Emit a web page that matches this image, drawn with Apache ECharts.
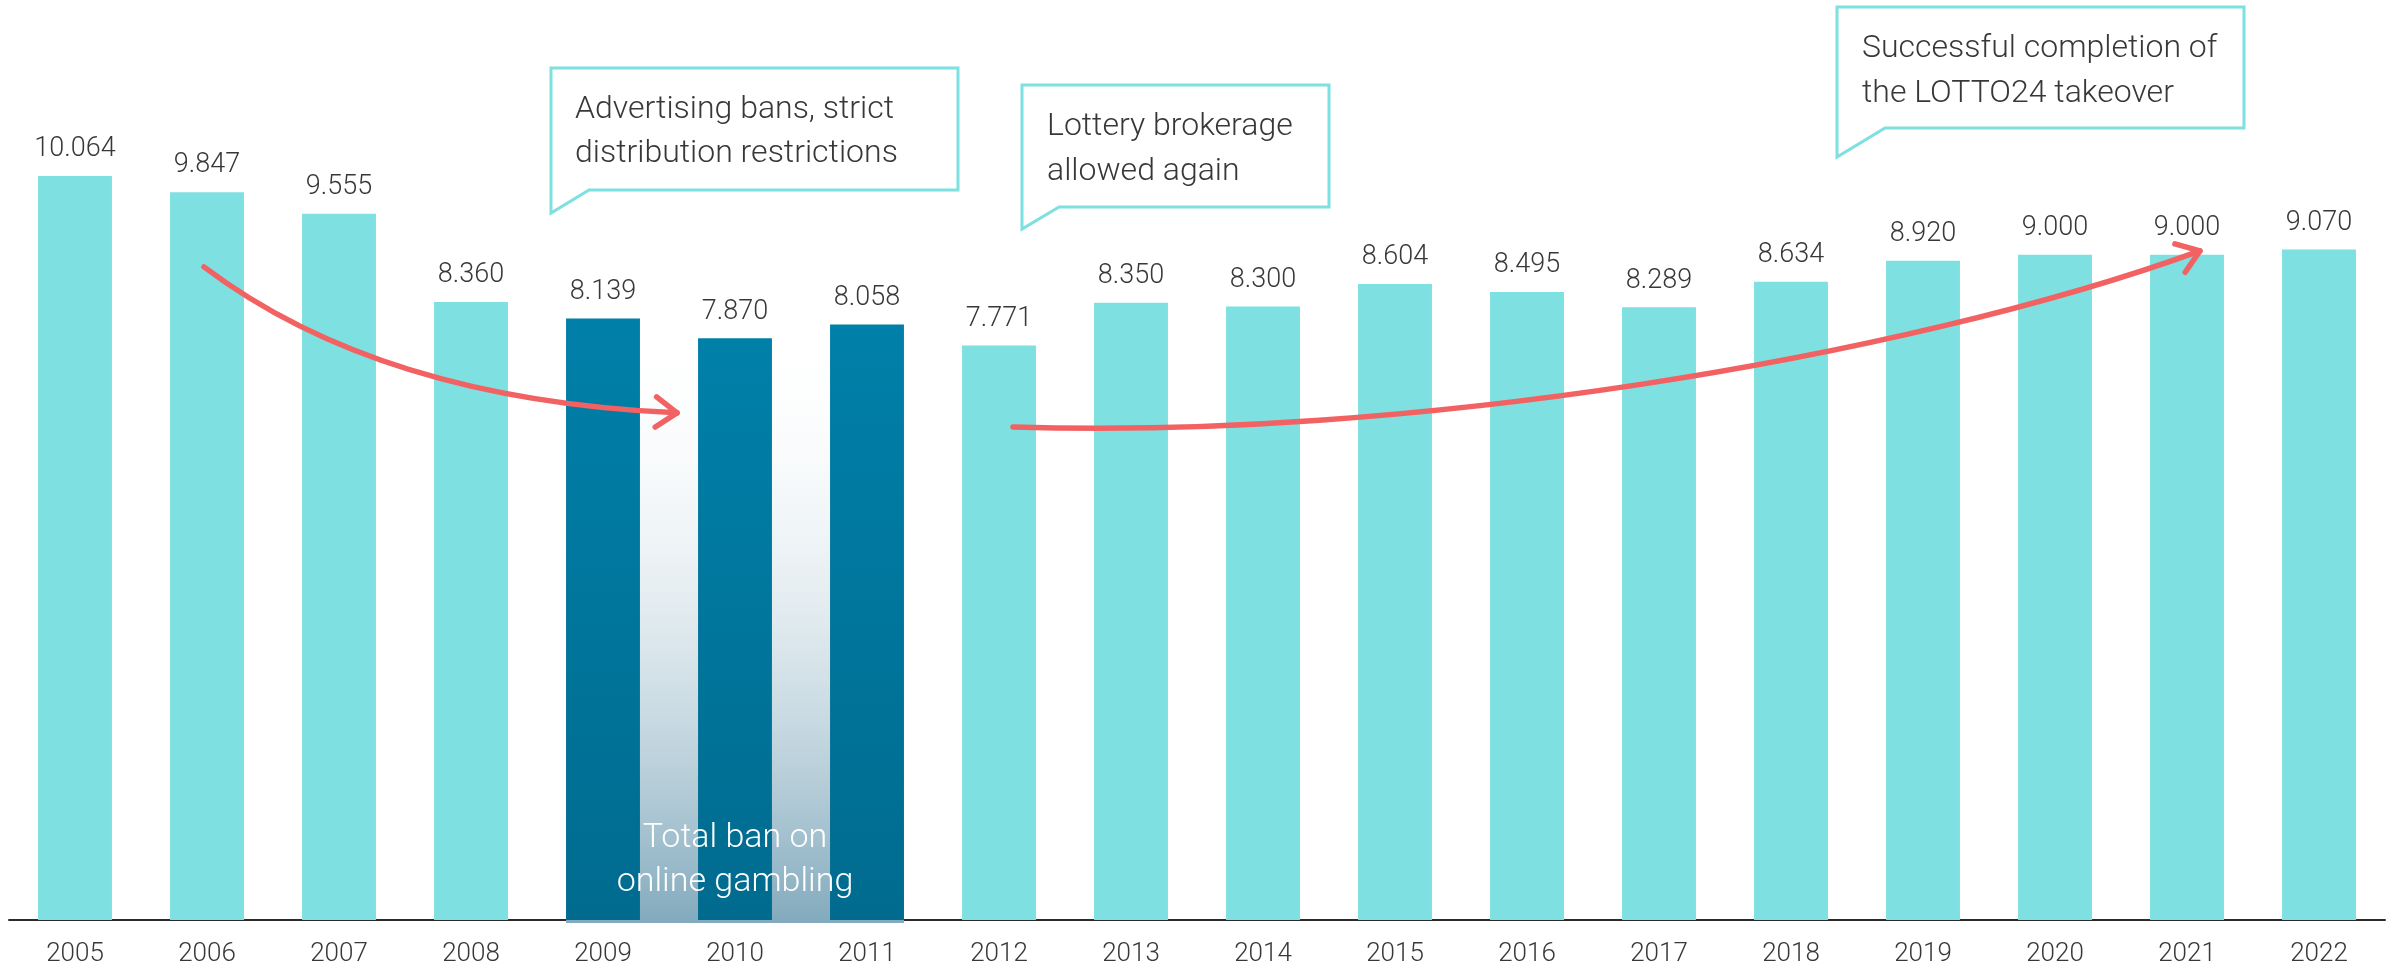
<!DOCTYPE html>
<html>
<head>
<meta charset="utf-8">
<script src="https://cdn.jsdelivr.net/npm/echarts@6/dist/echarts.min.js"></script>
<style>
  html, body { margin: 0; padding: 0; background: #ffffff; }
  #chart { width: 2399px; height: 972px; }
</style>
</head>
<body>
<div id="chart"></div>
<script>
// ---------- data ----------
const years = ['2005','2006','2007','2008','2009','2010','2011','2012','2013','2014','2015','2016','2017','2018','2019','2020','2021','2022'];
const revenue = [10.064, 9.847, 9.555, 8.360, 8.139, 7.870, 8.058, 7.771, 8.350, 8.300, 8.604, 8.495, 8.289, 8.634, 8.920, 9.000, 9.000, 9.070];
const banYears = ['2009', '2010', '2011'];
const banText = ['Total ban on', 'online gambling'];
const calloutAds = ['Advertising bans, strict', 'distribution restrictions'];
const calloutBrokerage = ['Lottery brokerage', 'allowed again'];
const calloutLotto = ['Successful completion of', 'the LOTTO24 takeover'];
// arrow paths in data space: [category index, value]
const arrowDown = [[0.977, 8.836], [2.311, 7.037], [4.561, 6.861]];              // quadratic
const arrowUp = [[7.106, 6.671], [10.038, 6.495], [13.826, 7.578], [16.098, 9.053]]; // cubic

// ---------- style ----------
const FONT = "Roboto, 'Open Sans', sans-serif";
const LIGHT = '#7EE0E0';
const TEXT = '#383838';
const RED = '#F26262';

const banStart = years.indexOf(banYears[0]);
const banEnd = years.indexOf(banYears[banYears.length - 1]);
const banTop = Math.max(...revenue.slice(banStart, banEnd + 1));

const darkGrad = new echarts.graphic.LinearGradient(0, 0, 0, 1, [
  { offset: 0, color: '#0080A9' }, { offset: 1, color: '#006B8F' }
]);

const barData = revenue.map((v, i) => {
  const dark = i >= banStart && i <= banEnd;
  return { value: v, itemStyle: { color: dark ? darkGrad : LIGHT } };
});

const chart = echarts.init(document.getElementById('chart'), null, { renderer: 'canvas' });

const BAR_RATIO = 0.56;

chart.setOption({
  animation: false,
  backgroundColor: '#ffffff',
  grid: { left: 9, right: 14, top: 33, bottom: 52, containLabel: false },
  xAxis: {
    type: 'category',
    data: years,
    axisLine: { show: true, lineStyle: { color: '#2b2b2b', width: 2 } },
    axisTick: { show: false },
    axisLabel: { margin: 21, fontSize: 26, fontWeight: 300, color: TEXT, fontFamily: FONT }
  },
  yAxis: { type: 'value', min: 0, max: 12, show: false, splitLine: { show: false } },
  series: [
    {
      type: 'custom',
      z: 1,
      silent: true,
      data: [[banStart, banEnd, banTop]],
      encode: { x: [0, 1], y: 2 },
      renderItem: function (params, api) {
        const bw = api.size([1, 0])[0] * BAR_RATIO;
        const x0 = api.coord([api.value(0), 0])[0] - bw / 2;
        const x1 = api.coord([api.value(1), 0])[0] + bw / 2;
        const yTop = api.coord([api.value(0), api.value(2)])[1];
        const yBase = api.coord([api.value(0), 0])[1] + 3;
        return {
          type: 'rect',
          shape: { x: x0, y: yTop, width: x1 - x0, height: yBase - yTop },
          style: {
            fill: new echarts.graphic.LinearGradient(0, 0, 0, 1, [
              { offset: 0, color: 'rgba(255,255,255,0)' },
              { offset: 1, color: '#82AABD' }
            ])
          }
        };
      }
    },
    {
      type: 'bar',
      z: 3,
      barWidth: (BAR_RATIO * 100) + '%',
      data: barData,
      label: {
        show: true,
        position: 'top',
        distance: 13,
        fontSize: 27,
        fontWeight: 300,
        color: TEXT,
        fontFamily: FONT,
        formatter: p => p.value.toFixed(3)
      }
    }
  ]
});

// ---------- annotations (anchored through the axes) ----------
function px(idx, val) {
  const a = chart.convertToPixel({ xAxisIndex: 0 }, 0);
  const b = chart.convertToPixel({ xAxisIndex: 0 }, 1);
  const y = chart.convertToPixel({ yAxisIndex: 0 }, val);
  return [a + (b - a) * idx, y];
}

function arrowHead(tip, from, len, ang) {
  const dx = tip[0] - from[0], dy = tip[1] - from[1];
  const d = Math.hypot(dx, dy);
  const ux = dx / d, uy = dy / d;
  const rot = (a) => [
    tip[0] - len * (ux * Math.cos(a) - uy * Math.sin(a)),
    tip[1] - len * (uy * Math.cos(a) + ux * Math.sin(a))
  ];
  return [rot(ang), tip, rot(-ang)];
}

const graphics = [];
const lineStyle = { stroke: RED, lineWidth: 5.5, lineCap: 'round', lineJoin: 'round', fill: null };

// down arrow (quadratic)
{
  const p0 = px(...arrowDown[0]), c = px(...arrowDown[1]), p1 = px(...arrowDown[2]);
  graphics.push({ type: 'bezierCurve', z: 50, shape: { x1: p0[0], y1: p0[1], cpx1: c[0], cpy1: c[1], x2: p1[0], y2: p1[1] }, style: lineStyle });
  graphics.push({ type: 'polyline', z: 50, shape: { points: arrowHead(p1, c, 26, 0.62) }, style: lineStyle });
}
// up arrow (cubic)
{
  const p0 = px(...arrowUp[0]), c1 = px(...arrowUp[1]), c2 = px(...arrowUp[2]), p1 = px(...arrowUp[3]);
  graphics.push({ type: 'bezierCurve', z: 50, shape: { x1: p0[0], y1: p0[1], cpx1: c1[0], cpy1: c1[1], cpx2: c2[0], cpy2: c2[1], x2: p1[0], y2: p1[1] }, style: lineStyle });
  graphics.push({ type: 'polyline', z: 50, shape: { points: arrowHead(p1, c2, 26, 0.62) }, style: lineStyle });
}

// callout boxes
function callout(box, lines) {
  const { l, t, r, b, join, tip, tx, ty, lh } = box;
  graphics.push({
    type: 'polygon', z: 40,
    shape: { points: [[l, t], [r, t], [r, b], [join, b], [l, tip], [l, t]] },
    style: { fill: '#ffffff', stroke: LIGHT, lineWidth: 3 }
  });
  lines.forEach((s, i) => {
    graphics.push({
      type: 'text', z: 41,
      style: { text: s, x: tx, y: ty + i * lh, font: '300 32px ' + FONT, fill: TEXT, textVerticalAlign: 'middle', textAlign: 'left' }
    });
  });
}
callout({ l: 551, t: 68, r: 958, b: 190, join: 589, tip: 213, tx: 575, ty: 110, lh: 44 }, calloutAds);
callout({ l: 1022, t: 85, r: 1329, b: 207, join: 1059, tip: 229, tx: 1047, ty: 127, lh: 45 }, calloutBrokerage);
callout({ l: 1837, t: 7, r: 2244, b: 128, join: 1885, tip: 157, tx: 1862, ty: 49, lh: 45 }, calloutLotto);

// white label inside the ban block
{
  const mid = (banStart + banEnd) / 2;
  const c = px(mid, 0);
  banText.forEach((s, i) => {
    graphics.push({
      type: 'text', z: 45,
      style: { text: s, x: c[0], y: c[1] - 82 + i * 44, font: '300 34px ' + FONT, fill: '#ffffff', textAlign: 'center', textVerticalAlign: 'middle' }
    });
  });
}

chart.setOption({ graphic: graphics });
</script>
</body>
</html>
